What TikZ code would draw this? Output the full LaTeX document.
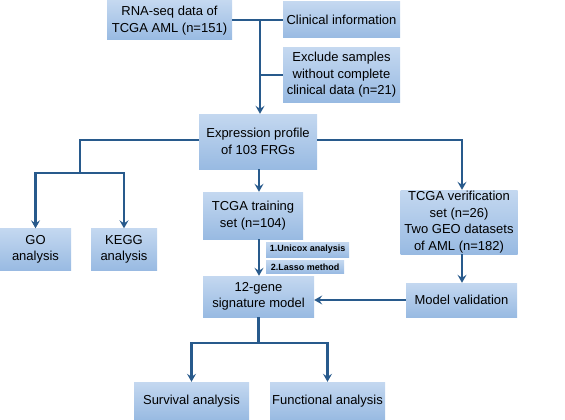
\documentclass[tikz,border=0pt]{standalone}
\usepackage{fontspec}
\setmainfont{Liberation Sans}
\usepackage{tikz}
\usetikzlibrary{arrows.meta,positioning,calc}
\definecolor{flowline}{RGB}{40,90,140}
\definecolor{boxtop}{RGB}{196,216,240}
\definecolor{boxbot}{RGB}{152,186,226}

\begin{document}
\begin{tikzpicture}[
  x=1pt, y=-1pt,
  font=\fontsize{13}{16.5}\selectfont,
  box/.style={top color=boxtop, bottom color=boxbot, draw=none,
              align=center, inner sep=1pt},
  tag/.style={top color=boxtop, bottom color=boxbot, draw=none,
              font=\fontsize{9}{9}\selectfont\bfseries, anchor=west, inner sep=1pt},
  link/.style={flowline, line width=2.3pt},
  arr/.style={link, -{Stealth[length=8pt,width=9pt,inset=3pt]}}
]
\useasboundingbox (0,0) rectangle (565,420);

% --- data sources ---
\node[box, minimum width=125pt, minimum height=39pt] (rna) at (169.5,20.5)
  {RNA-seq data of\\TCGA AML (n=151)};
\node[box, minimum width=117pt, minimum height=36pt] (clin) at (341.5,20)
  {Clinical information};
\node[box, minimum width=117pt, minimum height=54pt] (excl) at (341.5,75)
  {Exclude samples\\without complete\\clinical data (n=21)};

% --- expression profile and branches ---
\node[box, minimum width=118pt, minimum height=55pt] (expr) at (258,141.5)
  {Expression profile\\of 103 FRGs};
\node[box, minimum width=71pt, minimum height=42pt] (go) at (35.5,249.5)
  {GO\\analysis};
\node[box, minimum width=66pt, minimum height=42pt] (kegg) at (124,249.5)
  {KEGG\\analysis};
\node[box, minimum width=100pt, minimum height=47pt] (train) at (253,215.5)
  {TCGA training\\set (n=104)};
\node[box, minimum width=117pt, minimum height=64pt] (verif) at (459,222)
  {TCGA verification\\set (n=26)\\Two GEO datasets\\of AML (n=182)};

% --- model ---
\node[tag, minimum width=83pt, minimum height=15pt] (unicox) at (266,249.5)
  {1.Unicox analysis};
\node[tag, minimum width=78pt, minimum height=13pt] (lasso) at (266,267)
  {2.Lasso method};
\node[box, minimum width=111pt, minimum height=41pt] (model) at (258.5,296.5)
  {12-gene\\signature model};
\node[box, minimum width=111pt, minimum height=34pt] (valid) at (461.5,300)
  {Model validation};
\node[box, minimum width=115pt, minimum height=38pt] (surv) at (191.5,401)
  {Survival analysis};
\node[box, minimum width=115pt, minimum height=38pt] (func) at (327.5,401)
  {Functional analysis};

% --- connectors ---
\coordinate (j1) at (260,20);
\draw[link] (rna.east |- j1) -- (clin.west |- j1);
\draw[arr] (j1) -- (j1 |- expr.north);
\draw[link] (j1 |- excl.west) -- (excl.west);

\coordinate (jl) at (80,140);
\coordinate (jr) at (462,140);
\draw[link] (expr.west |- jl) -- (jl) -- ++(0,33) coordinate (jd);
\draw[arr] (jd) -| (go.north);
\draw[arr] (jd) -| (kegg.north);
\draw[arr] (expr.east |- jr) -| (jr |- verif.north);
\draw[arr] (259,169) coordinate (e0) -- (e0 |- train.north);
\draw[arr] (259,239) coordinate (t0) -- (t0 |- model.north);
\draw[arr] (jr |- verif.south) -- (jr |- valid.north);
\draw[arr] (valid.west) -- (model.east |- valid.west);

\draw[link] (model.south) -- ++(0,26) coordinate (jm);
\draw[arr] (jm) -| (surv.north);
\draw[arr] (jm) -| (func.north);

\end{tikzpicture}
\end{document}
